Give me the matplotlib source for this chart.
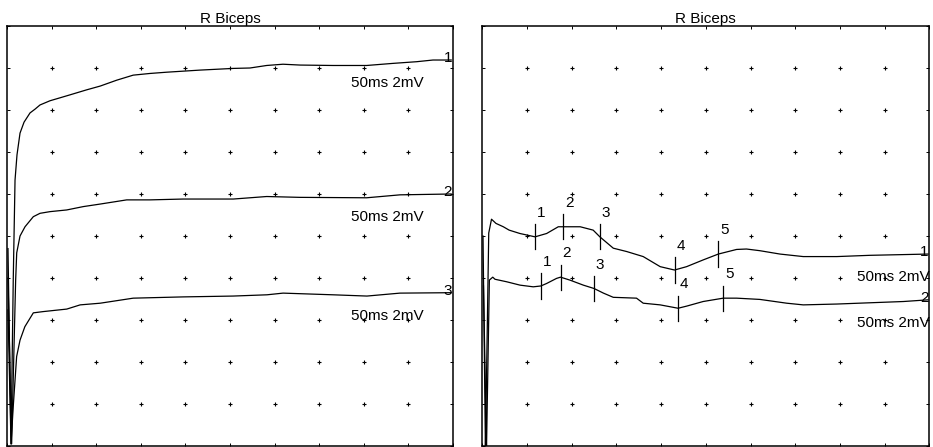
import numpy as np
import matplotlib
matplotlib.use("Agg")
import matplotlib.pyplot as plt

plt.rcParams['font.family'] = ['Liberation Sans', 'DejaVu Sans']

# screen units: x in ms (50 ms/div, 10 div), y in divisions (2 mV/div)
left_x1 = [1.1, 4.5, 7.0, 9.0, 11.2, 14.6, 19.1, 25.8, 31.4, 37.0, 48.2, 59.4, 70.5, 89.3, 104.5, 123.0, 141.5,
           160.3, 179.0, 216.4, 253.4, 272.4, 291.1, 309.4, 328.5, 365.5, 403.2, 432.7, 459.3, 477.6, 498.0]
left_y1 = [4.70, 0.05, 3.95, 6.33, 6.93, 7.45, 7.71, 7.93, 8.02, 8.12, 8.22, 8.29, 8.36, 8.48, 8.57, 8.71, 8.83,
           8.87, 8.90, 8.95, 8.99, 9.00, 9.06, 9.09, 9.07, 9.06, 9.06, 9.11, 9.15, 9.19, 9.19]

left_x2 = [1.1, 5.2, 9.7, 10.9, 14.6, 20.2, 29.5, 37.0, 48.2, 66.9, 85.5, 104.3, 134.2, 160.3, 197.6, 253.7,
           291.1, 328.5, 403.2, 440.6, 498.0]
left_y2 = [4.00, 0.05, 3.95, 4.60, 5.00, 5.22, 5.46, 5.54, 5.58, 5.62, 5.70, 5.76, 5.86, 5.86, 5.88, 5.88,
           5.94, 5.92, 5.91, 5.98, 6.00]

left_x3 = [1.1, 4.5, 7.0, 10.8, 14.6, 20.0, 29.5, 40.5, 67.0, 82.0, 104.5, 141.5, 197.5, 253.5, 291.5, 309.5,
           365.5, 403.5, 440.5, 498.0]
left_y3 = [3.24, 0.05, 0.94, 2.13, 2.52, 2.84, 3.17, 3.20, 3.26, 3.36, 3.40, 3.52, 3.55, 3.57, 3.60, 3.64,
           3.60, 3.57, 3.64, 3.65]

right_x1 = [0.8, 3.5, 7.2, 10.3, 15.3, 23.5, 30.0, 42.0, 59.0, 72.0, 85.0, 109.5, 124.0, 131.5, 146.5, 161.5, 180.0,
            199.0, 215.0, 228.5, 247.0, 264.0, 284.5, 295.5, 310.5, 333.0, 359.0, 396.5, 433.5, 498.5]
right_y1 = [5.00, -0.05, 5.07, 5.40, 5.30, 5.22, 5.14, 5.06, 4.98, 5.06, 5.22, 5.22, 5.14, 4.98, 4.71, 4.63, 4.51,
            4.27, 4.19, 4.27, 4.43, 4.57, 4.68, 4.69, 4.65, 4.57, 4.51, 4.51, 4.54, 4.57]

right_x2 = [1.3, 4.7, 7.9, 11.7, 14.2, 27.3, 42.2, 57.0, 65.5, 72.0, 83.0, 87.5, 98.0, 113.0, 125.0, 135.5, 146.5, 172.5,
            180.0, 199.0, 219.0, 228.5, 247.0, 269.5, 284.5, 310.5, 340.5, 359.0, 396.5, 433.5, 471.0, 498.5]
right_y2 = [3.81, -0.05, 3.95, 4.02, 3.97, 3.91, 3.83, 3.79, 3.81, 3.87, 3.99, 4.02, 3.95, 3.83, 3.75, 3.64, 3.54, 3.52,
            3.40, 3.36, 3.28, 3.33, 3.44, 3.52, 3.52, 3.49, 3.40, 3.36, 3.38, 3.41, 3.44, 3.48]

# cursor latencies (ms)
marks1 = [59.0, 90.5, 131.5, 215.0, 264.0]
marks2 = [65.5, 87.5, 125.0, 219.0, 269.5]
mark_names = ['1', '2', '3', '4', '5']

scale_text = "50ms 2mV"
title = "R Biceps"

fig = plt.figure(figsize=(9.33, 4.47), dpi=100)
ax_l = fig.add_axes([7 / 933, 1 / 447, 446 / 933, 420 / 447])
ax_r = fig.add_axes([482.3 / 933, 1 / 447, 447 / 933, 420 / 447])


def setup(ax):
    ax.set_xlim(0, 500)
    ax.set_ylim(0, 10)
    ax.set_xticks(np.arange(0, 501, 50))
    ax.set_yticks(np.arange(0, 11, 1))
    ax.tick_params(direction='in', length=2.5, width=0.7, top=True, right=True,
                   labelleft=False, labelbottom=False)
    for s in ax.spines.values():
        s.set_linewidth(1.1)
    gx, gy = np.meshgrid(np.arange(50, 500, 50), np.arange(1, 10))
    ax.plot(gx.ravel(), gy.ravel(), '+', color='black', markersize=3, markeredgewidth=0.8)
    ax.set_title(title, fontsize=11, pad=2.5)


def trace(ax, xs, ys, name, scale_x):
    ax.plot(xs, ys, color='black', linewidth=0.9)
    ax.text(499, ys[-1] - 0.05, name, ha='right', va='baseline', fontsize=11, clip_on=False)
    ax.text(scale_x, ys[-1] - 0.65, scale_text, ha='left', va='baseline', fontsize=11, clip_on=False)


def cursors(ax, xs, ys, marks):
    for m, n in zip(marks, mark_names):
        yv = np.interp(m, xs, ys)
        ax.plot([m, m], [yv - 0.3, yv + 0.3], color='black', linewidth=0.9)
        ax.text(m + 2, yv + 0.47, n, ha='left', va='baseline', fontsize=11)


setup(ax_l)
trace(ax_l, left_x1, left_y1, '1', 385.5)
trace(ax_l, left_x2, left_y2, '2', 385.5)
trace(ax_l, left_x3, left_y3, '3', 385.5)

setup(ax_r)
trace(ax_r, right_x1, right_y1, '1', 419)
trace(ax_r, right_x2, right_y2, '2', 419)
cursors(ax_r, right_x1, right_y1, marks1)
cursors(ax_r, right_x2, right_y2, marks2)

fig.savefig("out.png", dpi=100)
